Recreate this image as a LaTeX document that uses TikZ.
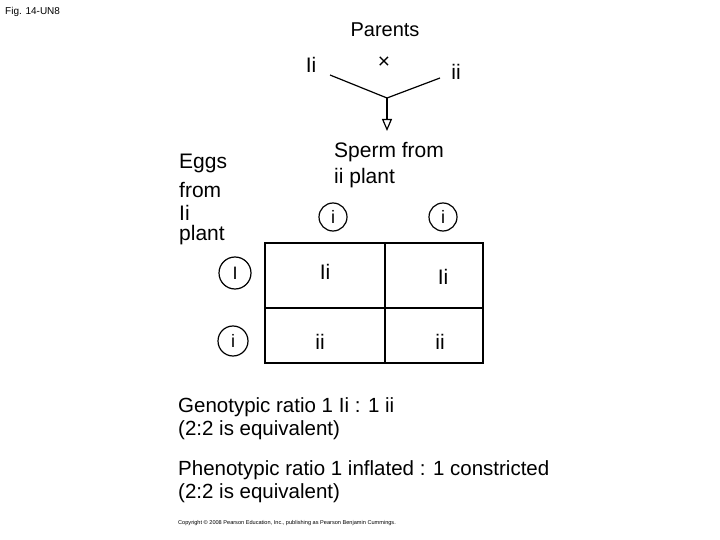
\documentclass[tikz,border=0pt]{standalone}
\usepackage{fontspec}
\setmainfont{Liberation Sans}
\usetikzlibrary{arrows.meta}
\begin{document}
\begin{tikzpicture}[x=1pt,y=-1pt,
  hw/.style={inner sep=0pt,font=\fontsize{21}{23}\selectfont},
  hwl/.style={hw,anchor=west},
  bt/.style={hwl,font=\fontsize{20.5}{23}\selectfont},
  gam/.style={draw,circle,line width=1.2pt,minimum size=28pt,inner sep=0pt,font=\fontsize{18}{20}\selectfont},
  ln/.style={line width=1.2pt},
]
\useasboundingbox[fill=white] (0,0) rectangle (720,540);
\node[anchor=west,inner sep=0pt,font=\fontsize{10}{12}\selectfont] (fig) at (5,12) {Fig. 14-UN8};
\node[hw,font=\fontsize{20}{22}\selectfont] (par) at (385,30) {Parents};
\node[hw] (p1) at (311,65) {Ii};
\node[hw] (x) at (384,63) {×};
\node[hw] (p2) at (456,72) {ii};
\coordinate (l1) at (330,75);
\coordinate (j) at (387,98);
\coordinate (r1) at (440,78);
\coordinate (ae) at (387,131);
\draw[ln] (l1) -- (j) -- (r1);
\draw[ln,-{Triangle[open,length=12pt,width=10pt]}] (j) -- (ae);
\node[hwl] (sp1) at (334,152) {Sperm from};
\node[hwl] (sp2) at (334,178) {ii plant};
\node[hwl] (e1) at (179,163) {Eggs};
\node[hwl] (e2) at (179,190) {from};
\node[hwl] (e3) at (179,213) {Ii};
\node[hwl] (e4) at (179,235) {plant};
\node[gam] (c1) at (333,217) {i};
\node[gam] (c2) at (443,217) {i};
\node[gam,minimum size=32pt] (c3) at (235,273) {I};
\node[gam,minimum size=30pt] (c4) at (233,341) {i};
\draw[ln] (265,243) rectangle (483,363);
\draw[ln] (385,243) -- (385,363);
\draw[ln] (265,308) -- (483,308);
\node[hw] (g11) at (325,272) {Ii};
\node[hw] (g12) at (443,277) {Ii};
\node[hw] (g21) at (320,342) {ii};
\node[hw] (g22) at (440,342) {ii};
\node[bt] (t1) at (178,407) {Genotypic ratio 1 Ii : 1 ii};
\node[bt] (t2) at (178,430) {(2:2 is equivalent)};
\node[bt] (t3) at (178,470) {Phenotypic ratio 1 inflated : 1 constricted};
\node[bt] (t4) at (178,493) {(2:2 is equivalent)};
\node[anchor=west,inner sep=0pt,font=\fontsize{5.6}{6.5}\selectfont] (cp) at (178,523) {Copyright © 2008 Pearson Education, Inc., publishing as Pearson Benjamin Cummings.};
\end{tikzpicture}
\end{document}
